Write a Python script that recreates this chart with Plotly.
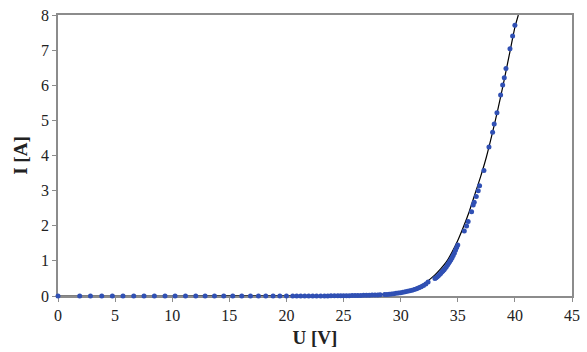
import plotly.graph_objects as go

# Measured points (U in V, I in A)
u_meas = [0, 1.90, 2.84, 3.83, 4.76, 5.69, 6.63, 7.53, 8.44, 9.37, 10.25, 11.16, 12.06,
          12.88, 13.70, 14.51, 15.30, 16.09, 16.85, 17.55, 18.19, 18.83, 19.42, 20.00,
          20.55, 20.90, 21.25, 21.60, 21.95, 22.30, 22.64, 23.00, 23.33, 23.62, 23.90,
          24.20, 24.50, 24.75, 25.00, 25.25, 25.50, 25.75, 26.00, 26.25, 26.50, 26.75,
          27.00, 27.25, 27.50, 27.75, 28.00, 28.20,
          28.60, 28.80, 29.00, 29.20, 29.40, 29.60, 29.80, 30.00, 30.20, 30.40, 30.60,
          30.80, 31.00, 31.20, 31.40, 31.60, 31.80, 32.00, 32.20, 32.40,
          33.00, 33.10, 33.20, 33.30, 33.40, 33.50, 33.60, 33.70, 33.80, 33.90, 34.00,
          34.10, 34.20, 34.30, 34.40, 34.50, 34.60, 34.70, 34.80, 34.90, 35.00,
          35.57, 35.77, 35.91, 36.21, 36.35, 36.44, 36.62, 36.79, 36.91, 37.29, 37.73,
          38.05, 38.19, 38.43, 38.75, 38.93, 39.07, 39.22, 39.57, 39.80, 40.00]
i_meas = [0, 0, 0, 0, 0, 0, 0, 0, 0, 0, 0, 0, 0,
          0, 0, 0, 0, 0, 0, 0, 0, 0, 0, 0,
          0, 0, 0, 0, 0.001, 0.001, 0.002, 0.002, 0.003, 0.003, 0.004,
          0.005, 0.006, 0.007, 0.008, 0.009, 0.010, 0.011, 0.013, 0.014, 0.016, 0.018,
          0.020, 0.022, 0.025, 0.028, 0.031, 0.034,
          0.040, 0.045, 0.050, 0.058, 0.066, 0.075, 0.085, 0.095, 0.105, 0.118, 0.132,
          0.146, 0.165, 0.185, 0.208, 0.235, 0.265, 0.300, 0.345, 0.400,
          0.50, 0.52, 0.55, 0.58, 0.61, 0.64, 0.68, 0.71, 0.75, 0.79, 0.83,
          0.88, 0.93, 0.98, 1.03, 1.09, 1.15, 1.22, 1.30, 1.38, 1.45,
          1.85, 1.99, 2.12, 2.40, 2.59, 2.67, 2.83, 3.00, 3.14, 3.57, 4.24,
          4.66, 4.90, 5.22, 5.72, 6.01, 6.21, 6.48, 7.04, 7.40, 7.71]

# Fitted curve
u_fit = [0, 10, 20, 24, 26, 28, 29, 30, 31, 32, 33, 33.5, 34, 34.5, 35, 35.5, 36,
         36.5, 37, 37.5, 38, 38.5, 39, 39.5, 40, 40.3]
i_fit = [0, 0, 0.003, 0.01, 0.02, 0.04, 0.07, 0.11, 0.2, 0.34, 0.6, 0.77, 0.97, 1.25,
         1.58, 1.97, 2.4, 2.9, 3.4, 3.95, 4.6, 5.3, 6.05, 6.85, 7.65, 8.0]

x_ticks = [0, 5, 10, 15, 20, 25, 30, 35, 40, 45]
y_ticks = [0, 1, 2, 3, 4, 5, 6, 7, 8]

fig = go.Figure()
fig.add_trace(go.Scatter(x=u_fit, y=i_fit, mode="lines",
                         line=dict(color="black", width=1.2, shape="spline", smoothing=0.6),
                         cliponaxis=False, showlegend=False))
fig.add_trace(go.Scatter(x=u_meas, y=i_meas, mode="markers",
                         marker=dict(color="#3050B4", size=5, line=dict(width=0)),
                         cliponaxis=False, showlegend=False))

axis_common = dict(showgrid=False, zeroline=False, showline=True, linecolor="#8c8c8c", linewidth=1.5,
                   mirror=True, ticks="outside", ticklen=4, tickcolor="#8c8c8c", tickwidth=1,
                   layer="below traces", automargin=False,
                   tickfont=dict(family="Liberation Serif", size=16, color="#222"))
fig.update_xaxes(range=[0, 45], tickvals=x_ticks, **axis_common,
                 title=dict(text="<b>U [V]</b>", font=dict(family="Liberation Serif", size=19, color="#222"), standoff=8))
fig.update_yaxes(range=[0, 8], tickvals=y_ticks, **axis_common,
                 title=dict(text="<b>I [A]</b>", font=dict(family="Liberation Serif", size=19, color="#222"), standoff=8))
fig.update_layout(width=587, height=352, margin=dict(l=58, r=15, t=15, b=56),
                  paper_bgcolor="white", plot_bgcolor="white")
fig.write_html("out.html")
